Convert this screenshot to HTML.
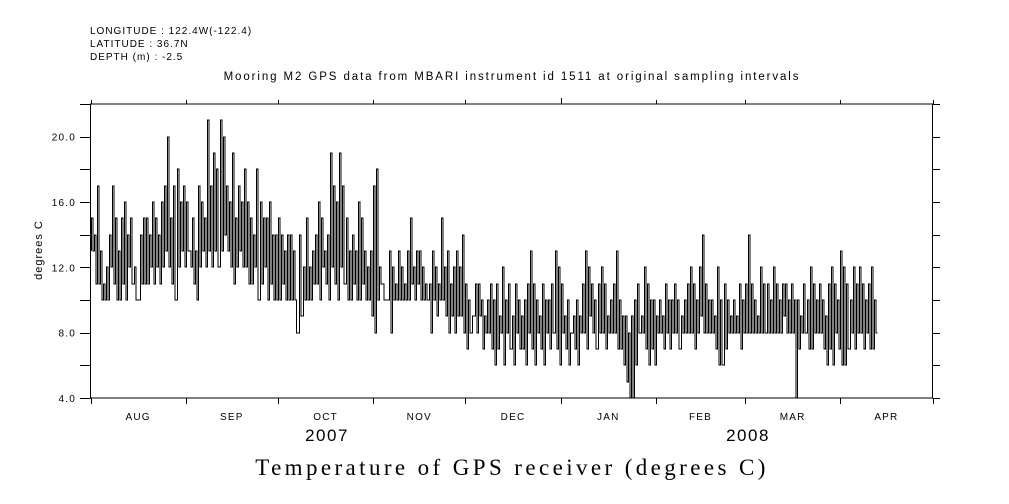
<!DOCTYPE html>
<html><head><meta charset="utf-8"><style>
body{margin:0;background:#fff;width:1009px;height:504px;overflow:hidden}
svg{display:block}
text{font-family:"Liberation Sans",sans-serif;fill:#000}
</style></head><body>
<svg id="chart" width="1009" height="504" viewBox="0 0 1009 504">
<g font-size="10" letter-spacing="1">
<text x="90" y="34">LONGITUDE : 122.4W(-122.4)</text>
<text x="90" y="47">LATITUDE : 36.7N</text>
<text x="90" y="60">DEPTH (m) : -2.5</text>
</g>
<text x="512" y="80" font-size="11.5" letter-spacing="1.9" text-anchor="middle">Mooring M2 GPS data from MBARI instrument id 1511 at original sampling intervals</text>
<text transform="translate(42,250) rotate(-90)" font-size="11" letter-spacing="1" text-anchor="middle">degrees C</text>
<text x="512" y="475" font-size="23" letter-spacing="3.4" text-anchor="middle" style="font-family:'Liberation Serif',serif">Temperature of GPS receiver (degrees C)</text>
<text x="327" y="441" font-size="17" letter-spacing="1.5" text-anchor="middle">2007</text>
<text x="748" y="441" font-size="17" letter-spacing="1.5" text-anchor="middle">2008</text>
<rect x="90.5" y="104" width="842" height="294" fill="none" stroke="#000"/>
<g id="axes"></g>
<path id="series" fill="none" stroke="#000" stroke-width="1"/>
</svg>
<script>
const monthLabels=["AUG","SEP","OCT","NOV","DEC","JAN","FEB","MAR","APR"];
const monthDays=[31,30,31,30,31,31,29,31,30];
const yTicks=[4,8,12,16,20];
const dayHigh=[15,14,17,13,11,12,14,17,15,13,15,16,14,15,12,10,14,15,15,14,16,15,14,16,17,20,15,17,18,16,
17,16,13,15,13,17,16,15,21,17,19,18,21,20,17,16,19,15,17,16,18,16,15,14,18,16,15,15,16,14,
14,15,14,13,14,14,13,8,14,12,15,12,13,14,16,15,13,14,19,17,16,19,17,15,13,14,13,16,15,13,
12,13,17,18,12,11,10,13,12,11,13,12,11,13,15,12,13,13,12,11,11,13,12,11,15,12,13,11,12,13,
12,14,11,10,9,11,11,10,9,10,11,10,11,9,12,10,11,9,11,10,9,10,11,13,11,10,9,11,10,10,
11,13,12,11,9,10,8,9,10,9,11,13,12,11,10,11,12,11,9,10,11,13,10,9,9,8,9,10,11,9,
12,11,10,10,9,10,9,11,10,10,11,10,9,10,11,12,11,10,12,14,11,10,10,9,12,10,11,10,9,10,
9,11,10,11,14,11,10,9,12,11,11,10,12,11,10,11,11,10,11,10,10,9,11,10,12,11,10,11,10,9,
11,12,11,10,13,12,11,10,12,11,12,11,10,11,12,10];
const dayLow=[13,11,11,10,10,10,12,11,10,10,11,10,12,11,10,10,11,11,11,12,11,12,11,12,13,12,11,10,12,13,
12,13,12,11,10,12,13,12,13,12,13,12,13,14,13,12,11,12,13,12,12,11,11,12,10,11,12,10,11,10,
10,10,11,10,10,10,10,8,9,10,10,10,11,11,10,12,11,10,12,11,10,12,11,10,10,11,10,10,11,10,
10,9,8,10,11,10,10,8,10,10,10,10,10,10,11,10,11,10,10,10,8,10,9,10,10,9,8,9,8,9,
9,8,7,8,9,8,9,7,8,8,7,6,7,8,6,8,7,6,8,7,7,6,8,7,6,8,7,6,8,7,
8,7,6,8,7,6,8,7,6,8,8,7,9,8,7,8,8,7,8,8,8,7,7,6,5,4,4,6,8,8,
7,6,7,6,8,8,7,8,7,8,8,7,8,8,8,8,7,8,9,8,8,8,8,7,6,6,7,8,8,8,
8,7,8,8,8,8,8,8,8,8,8,8,8,8,8,9,8,8,8,4,7,8,8,7,7,8,8,8,7,6,
7,6,8,7,6,6,7,8,7,8,8,7,8,7,7,8];
const X0=90.5,X1=932.5,Y0=398,Y1=104,totalDays=274,vMin=4,vMax=22;
const xs=d=>X0+(d/totalDays)*(X1-X0);
const ys=v=>Y0-(v-vMin)/(vMax-vMin)*(Y0-Y1);
const px=d=>Math.round(xs(d))+0.5;
const NS="http://www.w3.org/2000/svg";
const axes=document.getElementById('axes');
function line(x1,y1,x2,y2,name){const l=document.createElementNS(NS,'line');
l.setAttribute('x1',x1);l.setAttribute('y1',y1);l.setAttribute('x2',x2);l.setAttribute('y2',y2);l.setAttribute('stroke','#000');


axes.appendChild(l);}
function txt(x,y,s,anchor,size,name){const t=document.createElementNS(NS,'text');
t.setAttribute('x',x);t.setAttribute('y',y);t.setAttribute('text-anchor',anchor);t.setAttribute('font-size',size);t.setAttribute('letter-spacing','1.2');t.textContent=s;


axes.appendChild(t);}
for(let v=vMin;v<=vMax;v+=2){const y=Math.round(ys(v))+0.5;line(80,y,90.5,y,'y-tick');line(932.5,y,940,y,'y-tick-right');}
yTicks.forEach(v=>txt(76,ys(v)+4,v.toFixed(1),'end',10,'y-tick-label'));
let d=0;
const bounds=[0];monthDays.forEach(n=>{d+=n;bounds.push(d);});
bounds.forEach((b,i)=>{const x=Math.round(xs(b))+0.5;line(x,398,x,404,'x-tick');line(x,i==5?98:100,x,104,'x-tick-top');});
monthLabels.forEach((m,i)=>txt(xs((bounds[i]+bounds[i+1])/2),420,m,'middle',10,'month-label'));
let p='M'+px(0)+','+Math.round(ys(dayLow[0]));
for(let i=0;i<dayHigh.length;i++){
const h=Math.round(ys(dayHigh[i])),l=Math.round(ys(dayLow[i]));
p+='H'+px(i)+'V'+h+'H'+(px(i)+1.5)+'V'+l;
}
p+='H'+px(dayHigh.length);
document.getElementById('series').setAttribute('d',p);
</script>
</body></html>
